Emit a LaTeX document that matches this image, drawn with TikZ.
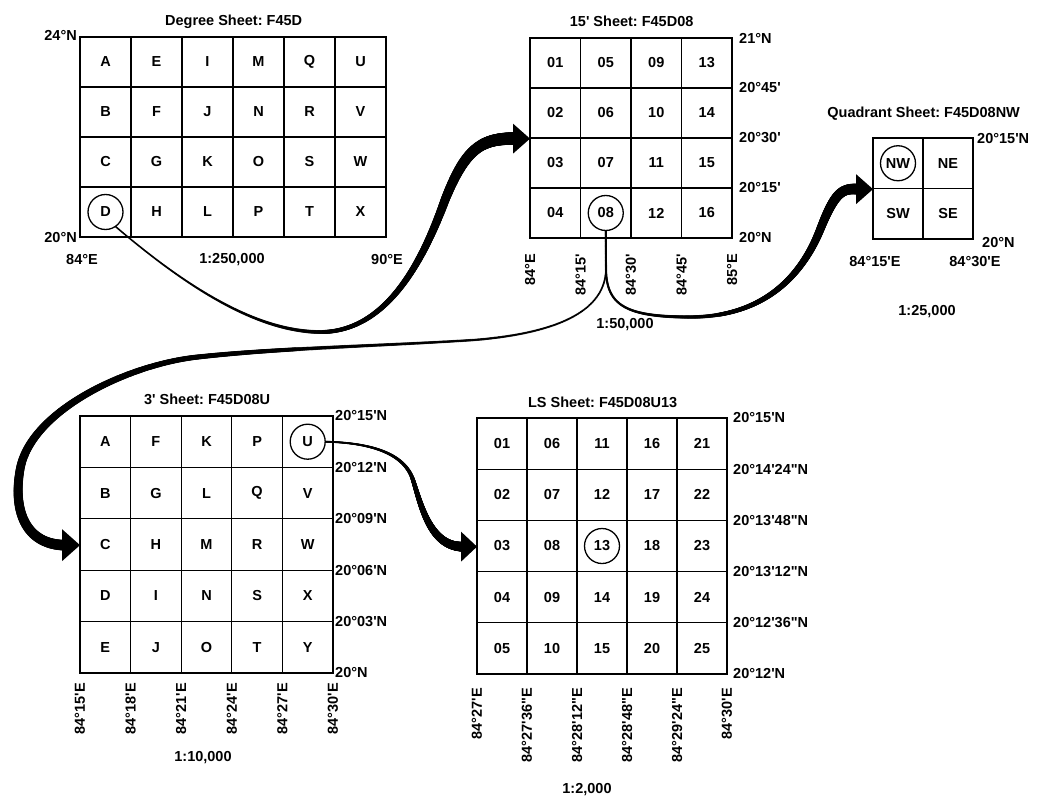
\documentclass[tikz,border=0pt]{standalone}
\usepackage{fontspec}
\setmainfont{Liberation Sans}
\frenchspacing
\usetikzlibrary{positioning,decorations.markings}
\newcommand\amin{\textquotesingle}
\newcommand\asec{\textquotedbl}
\tikzset{
  sheet/.style={draw,line width=1.3pt,inner sep=0pt,anchor=north west},
  cell/.style={draw,line width=1.3pt,inner sep=0pt},
  ring/.style={draw,circle,line width=1.3pt,minimum size=35pt,inner sep=0pt},
  lab/.style={inner sep=1pt},
  sheetname/.style={inner sep=1pt},
  taper/.style 2 args={decorate,decoration={markings,
    mark=between positions 0 and 1 step 0.001 with {
      \pgfmathsetmacro\tw{#1+(#2-#1)*(\pgfkeysvalueof{/pgf/decoration/mark info/sequence number}/1000)^2}
      \fill (0,0) circle[radius=\tw pt];}}},
}

\begin{document}
\begin{tikzpicture}[x=1pt,y=-1pt,every node/.style={font=\fontsize{14.5}{17}\selectfont\bfseries}]
  \useasboundingbox (0,0) rectangle (1040,802);

  % degree sheet
  \node[sheet,minimum width=306pt,minimum height=200pt] (deg) at (80,37) {};
  \foreach \t [count=\i from 0] in {A,B,C,D,E,F,G,H,I,J,K,L,M,N,O,P,Q,R,S,T,U,V,W,X}
    \node[cell,minimum width=51pt,minimum height=50pt] (deg-\t) at ({80+51*int(\i/4)+25.5},{37+50*mod(\i,4)+25}) {\t};
  \node[ring] (cD) at (deg-D) {};
  \node[sheetname,above=7pt of deg] (deg-name) {Degree Sheet: F45D};
  \node[lab,anchor=east] (deg-n1) at (78,35) {24°N};
  \node[lab,anchor=east] (deg-n2) at (78,238) {20°N};
  \node[lab] (deg-e1) at (82,260) {84°E};
  \node[lab] (deg-sc) at (232,260) {1:250,000};
  \node[lab] (deg-e2) at (387,260) {90°E};

  % 15' sheet
  \node[sheet,minimum width=202pt,minimum height=200pt] (m15) at (530,38) {};
  \foreach \t [count=\i from 0] in {01,02,03,04,05,06,07,08,09,10,11,12,13,14,15,16}
    \node[cell,minimum width=50.5pt,minimum height=50pt] (m15-\t) at ({530+50.5*int(\i/4)+25.25},{38+50*mod(\i,4)+25}) {\t};
  \node[ring] (c08) at (m15-08) {};
  \node[sheetname,above=10pt of m15] (m15-name) {15\amin\ Sheet: F45D08};
  \foreach \t [count=\i from 0] in {21°N,20°45\amin,20°30\amin,20°15\amin,20°N}
    \node[lab,anchor=west] (m15-r\i) at (738,{38+50*\i}) {\t};
  \foreach \t [count=\i from 0] in {84°E,84°15\amin,84°30\amin,84°45\amin,85°E}
    \node[lab,rotate=90,anchor=east] (m15-b\i) at ({530+50.5*\i},253) {\t};
  \node[lab] (m15-sc) at (625,325) {1:50,000};

  % quadrant sheet
  \node[sheet,minimum width=100pt,minimum height=101pt] (quad) at (873,138) {};
  \foreach \t [count=\i from 0] in {NW,SW,NE,SE}
    \node[cell,minimum width=50pt,minimum height=50.5pt] (quad-\t) at ({873+50*int(\i/2)+25},{138+50.5*mod(\i,2)+25.25}) {\t};
  \node[ring] (cNW) at (quad-NW) {};
  \node[sheetname,above=16pt of quad] (quad-name) {Quadrant Sheet: F45D08NW};
  \node[lab,anchor=west] (quad-n1) at (976,139) {20°15\amin N};
  \node[lab,anchor=west] (quad-n2) at (981,243) {20°N};
  \node[lab] (quad-e1) at (875,262) {84°15\amin E};
  \node[lab] (quad-e2) at (975,262) {84°30\amin E};
  \node[lab] (quad-sc) at (927,312) {1:25,000};

  % 3' sheet
  \node[sheet,minimum width=253pt,minimum height=257pt] (m3) at (80,416) {};
  \foreach \t [count=\i from 0] in {A,B,C,D,E,F,G,H,I,J,K,L,M,N,O,P,Q,R,S,T,U,V,W,X,Y}
    \node[cell,minimum width=50.6pt,minimum height=51.4pt] (m3-\t) at ({80+50.6*int(\i/5)+25.3},{416+51.4*mod(\i,5)+25.7}) {\t};
  \node[ring] (cU) at (m3-U) {};
  \node[sheetname,above=10pt of m3] (m3-name) {3\amin\ Sheet: F45D08U};
  \foreach \t [count=\i from 0] in {20°15\amin N,20°12\amin N,20°09\amin N,20°06\amin N,20°03\amin N,20°N}
    \node[lab,anchor=west] (m3-r\i) at (334,{416+51.4*\i}) {\t};
  \foreach \t [count=\i from 0] in {84°15\amin E,84°18\amin E,84°21\amin E,84°24\amin E,84°27\amin E,84°30\amin E}
    \node[lab,rotate=90,anchor=east] (m3-b\i) at ({80+50.6*\i},682) {\t};
  \node[lab] (m3-sc) at (203,758) {1:10,000};

  % LS sheet
  \node[sheet,minimum width=250pt,minimum height=256pt] (ls) at (477,418) {};
  \foreach \t [count=\i from 0] in {01,02,03,04,05,06,07,08,09,10,11,12,13,14,15,16,17,18,19,20,21,22,23,24,25}
    \node[cell,minimum width=50pt,minimum height=51.2pt] (ls-\t) at ({477+50*int(\i/5)+25},{418+51.2*mod(\i,5)+25.6}) {\t};
  \node[ring] (c13) at (ls-13) {};
  \node[sheetname,above=9pt of ls] (ls-name) {LS Sheet: F45D08U13};
  \foreach \t [count=\i from 0] in {20°15\amin N,20°14\amin 24\asec N,20°13\amin 48\asec N,20°13\amin 12\asec N,20°12\amin 36\asec N,20°12\amin N}
    \node[lab,anchor=west] (ls-r\i) at (732,{418+51.2*\i}) {\t};
  \foreach \t [count=\i from 0] in {84°27\amin E,84°27\amin 36\asec E,84°28\amin 12\asec E,84°28\amin 48\asec E,84°29\amin 24\asec E,84°30\amin E}
    \node[lab,rotate=90,anchor=east] (ls-b\i) at ({477+50*\i},687) {\t};
  \node[lab] (ls-sc) at (587,790) {1:2,000};

  % connectors
  \path[taper={0.9}{6.5}] (cD.-55) .. controls (190,290) and (260,333) .. (323,332)
    .. controls (390,330) and (425,255) .. (445,200)
    .. controls (465,150) and (480,138) .. ([xshift=-15pt]m15.west);
  \fill (m15.west) -- ++(-17,-15) -- ++(0,30) -- cycle;
  \path[taper={1}{5.5}] (c08.south) -- (606,268) .. controls (606,305) and (625,317) .. (690,317)
    .. controls (760,317) and (800,280) .. (820,230)
    .. controls (835,192) and (842,188) .. ([xshift=-15pt]quad.west);
  \fill (quad.west) -- ++(-17,-15) -- ++(0,30) -- cycle;
  \path[taper={1}{5.5}] (c08.south) -- (606,268) .. controls (606,310) and (560,333) .. (474,340)
    .. controls (380,346) and (280,348) .. (198,357)
    .. controls (130,364) and (30,410) .. (20,470)
    .. controls (13,510) and (25,544) .. ([xshift=-16pt]m3.west);
  \fill (m3.west) -- ++(-18,-16) -- ++(0,32) -- cycle;
  \path[taper={0.9}{5}] (cU.east) .. controls (375,443) and (405,455) .. (413,480)
    .. controls (421,505) and (430,546) .. ([xshift=-15pt]ls.west);
  \fill (ls.west) -- ++(-16,-15) -- ++(0,30) -- cycle;
\end{tikzpicture}
\end{document}
